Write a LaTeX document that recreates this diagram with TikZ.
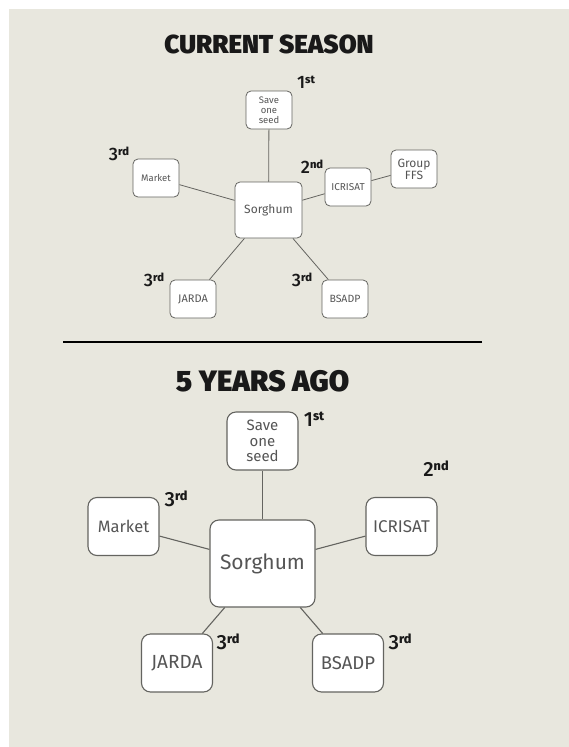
\documentclass[tikz,border=0pt]{standalone}
\usepackage{fontspec}
\setmainfont{Fira Sans}
\newfontfamily\headfont{Fira Sans Black}
\newfontfamily\rankfont{Fira Sans Medium}
\usetikzlibrary{positioning}
\definecolor{paper}{RGB}{232,231,222}
\definecolor{edge}{RGB}{100,100,96}
\definecolor{boxtext}{RGB}{85,85,85}
\newcommand{\ordlbl}[2]{#1\raisebox{0.28em}{\bfseries\scalebox{0.62}{#2}}}
\newcommand{\fsz}[1]{\fontsize{#1}{#1}\selectfont}

\begin{document}
\begin{tikzpicture}
  [
    x=1pt, y=-1pt,
    Small/.style={rectangle, rounded corners=5pt, draw=edge, fill=white, line width=0.8pt, minimum width=46pt, minimum height=38pt, inner sep=0pt, align=center, text=boxtext, font=\fsz{10}},
    SmallHub/.style={Small, minimum width=67pt, minimum height=56pt, font=\fsz{12}},
    Large/.style={rectangle, rounded corners=9pt, draw=edge, fill=white, line width=1.1pt, minimum width=71pt, minimum height=58pt, inner sep=0pt, align=center, text=boxtext, font=\fsz{17}},
    LargeHub/.style={Large, minimum width=105pt, minimum height=87pt, font=\fsz{21}},
    Rank/.style={inner sep=0pt, text=black!90, font=\rankfont\fsz{18}},
    BigRank/.style={Rank, font=\rankfont\fsz{20.5}},
    Heading/.style={inner sep=0pt, text=black!90, font=\headfont\fsz{26}},
    Link/.style={draw=edge, line width=0.8pt},
    BigLink/.style={draw=edge, line width=1.1pt}
  ]
  % Background
  \fill[white] (0,0) rectangle (569,747);
  \fill[paper] (9,9) rectangle (569,747);

  % Current season
  \node[Heading] (titleTop) at(269, 44) {CURRENT SEASON};
  \node[SmallHub] (sorghumT) at(268.5, 210) {Sorghum};
  \node[Small, font=\fontsize{9.5}{10}\selectfont] (seedT) at(269, 110) {Save\\one\\seed};
  \node[Small, font=\fsz{9.5}] (marketT) at(156, 178) {Market};
  \node[Small] (icrisatT) at(348, 187) {ICRISAT};
  \node[Small, font=\fontsize{12}{12}\selectfont] (ffsT) at(414, 169) {Group\\FFS};
  \node[Small, font=\fsz{11}] (jardaT) at(193, 299) {JARDA};
  \node[Small, font=\fsz{10.5}] (bsadpT) at(345, 299) {BSADP};

  \node[Rank] (rankSeedT) at(306, 82) {\ordlbl{1}{st}};
  \node[Rank] (rankMarketT) at(119, 154) {\ordlbl{3}{rd}};
  \node[Rank] (rankIcrisatT) at(312, 167) {\ordlbl{2}{nd}};
  \node[Rank] (rankJardaT) at(154, 280) {\ordlbl{3}{rd}};
  \node[Rank] (rankBsadpT) at(302, 280) {\ordlbl{3}{rd}};

  % Lines
  \path [Link] (sorghumT) -- (seedT);
  \path [Link] (sorghumT) -- (marketT);
  \path [Link] (sorghumT) -- (icrisatT);
  \path [Link] (icrisatT) -- (ffsT);
  \path [Link] (sorghumT) -- (jardaT);
  \path [Link] (sorghumT) -- (bsadpT);

  % Divider
  \coordinate (ruleL) at(63, 342);
  \coordinate (ruleR) at(482, 342);
  \draw[black, line width=1.3pt] (ruleL) -- (ruleR);
  \draw[black, line width=2.2pt] (ruleL) -- ++(33, 0);
  \draw[black, line width=2.2pt] (ruleR) -- ++(-35, 0);

  % Five years ago
  \node[Heading, font=\headfont\fsz{29.5}] (titleBot) at(262.5, 381.5) {5 YEARS AGO};
  \node[LargeHub] (sorghumB) at(262.5, 563.5) {Sorghum};
  \node[Large, font=\fontsize{15}{15.5}\selectfont] (seedB) at(262.5, 441) {Save\\one\\seed};
  \node[Large, font=\fsz{16.5}] (marketB) at(123.5, 526.5) {Market};
  \node[Large] (icrisatB) at(401.5, 526.5) {ICRISAT};
  \node[Large, font=\fsz{19}] (jardaB) at(177, 663) {JARDA};
  \node[Large, font=\fsz{18.5}] (bsadpB) at(348, 663) {BSADP};

  \node[BigRank] (rankSeedB) at(314, 419) {\ordlbl{1}{st}};
  \node[BigRank] (rankMarketB) at(176, 499) {\ordlbl{3}{rd}};
  \node[BigRank] (rankIcrisatB) at(436, 469) {\ordlbl{2}{nd}};
  \node[BigRank] (rankJardaB) at(228, 642) {\ordlbl{3}{rd}};
  \node[BigRank] (rankBsadpB) at(400, 642) {\ordlbl{3}{rd}};

  % Lines
  \path [BigLink] (sorghumB) -- (seedB);
  \path [BigLink] (sorghumB) -- (marketB);
  \path [BigLink] (sorghumB) -- (icrisatB);
  \path [BigLink] (sorghumB) -- (jardaB);
  \path [BigLink] (sorghumB) -- (bsadpB);

\end{tikzpicture}
\end{document}
